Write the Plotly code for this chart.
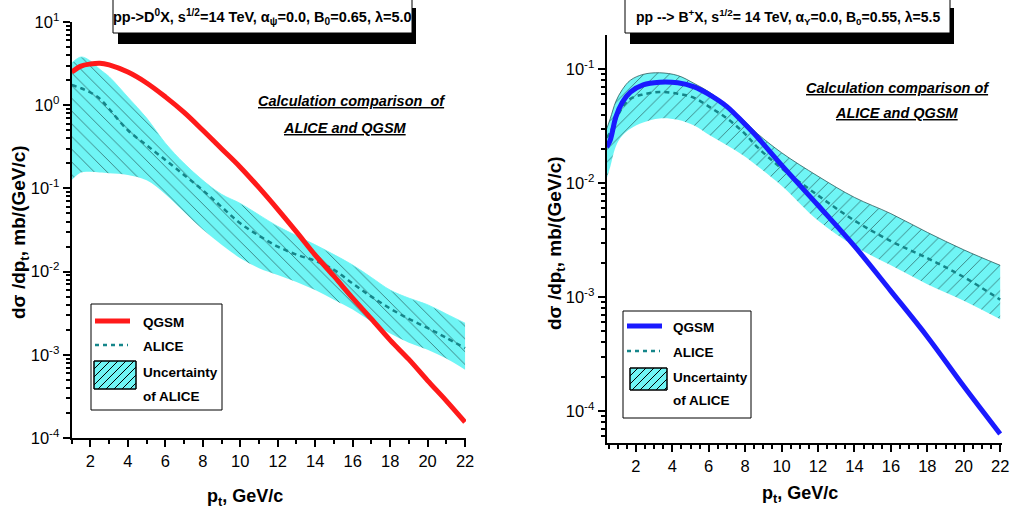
import plotly.graph_objects as go

# ---------------- data: left panel (pp -> D0 X) ----------------
d_x = [1.0, 1.5, 2.0, 2.5, 3.0, 4.0, 5.0, 6.0, 7.0, 8.0, 9.0, 10.0, 11.0, 12.0,
       13.0, 14.0, 15.0, 16.0, 17.0, 18.0, 19.0, 20.0, 21.0, 22.0]
d_qgsm = [2.5, 2.95, 3.13, 3.2, 3.05, 2.5, 1.85, 1.26, 0.82, 0.5, 0.3, 0.18, 0.102,
          0.056, 0.03, 0.0158, 0.0088, 0.0048, 0.0027, 0.0015, 0.00088, 0.00049,
          0.00028, 0.000155]
d_alice = [1.75, 1.6, 1.42, 1.2, 0.9, 0.5, 0.33, 0.22, 0.145, 0.095, 0.06, 0.038,
           0.027, 0.02, 0.016, 0.0135, 0.0105, 0.0072, 0.005, 0.0036, 0.0027,
           0.0021, 0.0016, 0.0012]
d_upper = [3.2, 3.8, 3.4, 2.7, 2.2, 1.25, 0.7, 0.35, 0.2, 0.125, 0.085, 0.066,
           0.048, 0.035, 0.027, 0.021, 0.016, 0.012, 0.0085, 0.006, 0.0048,
           0.004, 0.0031, 0.0024]
d_lower = [0.126, 0.155, 0.158, 0.155, 0.152, 0.145, 0.125, 0.085, 0.052, 0.032,
           0.021, 0.0145, 0.011, 0.0091, 0.0075, 0.006, 0.0046, 0.0035, 0.0025,
           0.0018, 0.0014, 0.00115, 0.0009, 0.00066]

# ---------------- data: right panel (pp -> B+ X) ----------------
b_x = [0.4, 0.6, 0.9, 1.25, 1.7, 2.4, 3.3, 4.3, 5.2, 6.1, 7.0, 7.9, 8.7, 10.0,
       12.0, 14.0, 16.0, 18.0, 20.0, 22.0]
b_qgsm = [0.0207, 0.024, 0.038, 0.051, 0.063, 0.073, 0.077, 0.076, 0.07, 0.059,
          0.047, 0.034, 0.025, 0.0144, 0.0064, 0.0028, 0.00113, 0.00045,
          0.000165, 0.000063]
b_alice = [0.025, 0.028, 0.036, 0.046, 0.055, 0.06, 0.063, 0.061, 0.056, 0.046,
           0.037, 0.028, 0.0205, 0.0135, 0.0078, 0.0047, 0.0031, 0.0022,
           0.0015, 0.00095]
b_upper = [0.03, 0.037, 0.052, 0.066, 0.08, 0.09, 0.093, 0.088, 0.075, 0.062,
           0.048, 0.036, 0.027, 0.0185, 0.0115, 0.0075, 0.0054, 0.0037, 0.0026,
           0.0019]
b_lower = [0.011, 0.014, 0.021, 0.026, 0.03, 0.034, 0.037, 0.036, 0.032, 0.026,
           0.0215, 0.0175, 0.014, 0.0095, 0.0047, 0.0028, 0.0019, 0.0013,
           0.00093, 0.00064]

x_tickvals = [2, 4, 6, 8, 10, 12, 14, 16, 18, 20, 22]
legend_labels = ["QGSM", "ALICE", "Uncertainty", "of ALICE"]

W, H = 1013, 517
FONT = "Liberation Sans, Arial, sans-serif"
CYAN = "#6ff5f5"
TEAL = "#15868a"
RED = "#ff1a1a"
BLUE = "#1a1aff"


def px_x(p):
    return p / W


def px_y(p):
    return 1 - p / H


fig = go.Figure()


def add_panel(xs, qgsm, alice, upper, lower, xa, ya, qcolor, hatch, edge):
    fig.add_trace(go.Scatter(x=xs, y=lower, mode="lines", line=dict(width=0, color=CYAN),
                             xaxis=xa, yaxis=ya, showlegend=False, hoverinfo="skip",
                             line_shape="spline"))
    fig.add_trace(go.Scatter(x=xs, y=upper, mode="lines", fill="tonexty",
                             fillcolor=CYAN,
                             fillpattern=dict(shape=hatch, bgcolor=CYAN, fgcolor="black",
                                              size=9, solidity=0.1),
                             line=dict(width=0.8, color=edge), line_shape="spline",
                             name="Uncertainty of ALICE", showlegend=False,
                             xaxis=xa, yaxis=ya))
    fig.add_trace(go.Scatter(x=xs, y=alice, mode="lines",
                             line=dict(color=TEAL, width=2.5, dash="5px,4px"),
                             line_shape="spline", name="ALICE", showlegend=False,
                             xaxis=xa, yaxis=ya))
    fig.add_trace(go.Scatter(x=xs, y=qgsm, mode="lines",
                             line=dict(color=qcolor, width=5), line_shape="spline",
                             name="QGSM", showlegend=False, xaxis=xa, yaxis=ya))


add_panel(d_x, d_qgsm, d_alice, d_upper, d_lower, "x", "y", RED, "\\", CYAN)
add_panel(b_x, b_qgsm, b_alice, b_upper, b_lower, "x2", "y2", BLUE, "/", "#2a5a5a")


def minor_log(e0, e1):
    return [k * 10.0 ** e for e in range(e0, e1) for k in range(2, 10)]


axis_common = dict(showline=True, linecolor="black", linewidth=2, ticks="outside",
                   tickcolor="black", showgrid=False, zeroline=False, mirror=False,
                   tickfont=dict(family=FONT, size=16.5, color="black"))

fig.update_layout(
    width=W, height=H, margin=dict(l=0, r=0, t=0, b=0, autoexpand=False),
    paper_bgcolor="white", plot_bgcolor="white", showlegend=False,
    xaxis=dict(domain=[px_x(71.7), px_x(466)], range=[1, 22.05], anchor="y",
               tickvals=x_tickvals, ticklen=7, tickwidth=1.5,
               minor=dict(dtick=1, tick0=0, ticks="outside", ticklen=4, tickcolor="black"),
               **axis_common),
    yaxis=dict(domain=[px_y(438), px_y(22)], type="log", range=[-4, 1], anchor="x",
               tickvals=[1e-4, 1e-3, 1e-2, 1e-1, 1, 10],
               ticktext=["10<sup>-4</sup>", "10<sup>-3</sup>", "10<sup>-2</sup>",
                         "10<sup>-1</sup>", "10<sup>0</sup>", "10<sup>1</sup>"],
               ticklen=7, tickwidth=1.5,
               minor=dict(tickvals=minor_log(-4, 1), ticks="outside", ticklen=4,
                          tickcolor="black"),
               **axis_common),
    xaxis2=dict(domain=[px_x(606.7), px_x(1002)], range=[0.4, 22.1], anchor="y2",
                tickvals=x_tickvals, ticklen=7, tickwidth=1.5,
                minor=dict(dtick=0.5, tick0=0, ticks="outside", ticklen=4, tickcolor="black"),
                **axis_common),
    yaxis2=dict(domain=[px_y(443), px_y(35)], type="log", range=[-4.28, -0.70], anchor="x2",
                tickvals=[1e-4, 1e-3, 1e-2, 1e-1],
                ticktext=["10<sup>-4</sup>", "10<sup>-3</sup>", "10<sup>-2</sup>",
                          "10<sup>-1</sup>"],
                ticklen=7, tickwidth=1.5,
                minor=dict(tickvals=minor_log(-5, 0), ticks="outside", ticklen=4,
                           tickcolor="black"),
                **axis_common),
)


def text_at(x, y, txt, size, xanchor="center", angle=0):
    fig.add_annotation(x=px_x(x), y=px_y(y), xref="paper", yref="paper", showarrow=False,
                       text=txt, xanchor=xanchor, yanchor="middle", textangle=angle,
                       font=dict(family=FONT, size=size, color="black"))


def rect(x0, x1, y0, y1, fill, lw=1, lc="black"):
    fig.add_shape(type="rect", xref="paper", yref="paper", x0=px_x(x0), x1=px_x(x1),
                  y0=px_y(y1), y1=px_y(y0), fillcolor=fill,
                  line=dict(width=lw, color=lc), layer="above")


def seg(x0, y0, x1, y1, color, width, dash="solid"):
    fig.add_shape(type="line", xref="paper", yref="paper", x0=px_x(x0), x1=px_x(x1),
                  y0=px_y(y0), y1=px_y(y1), line=dict(color=color, width=width, dash=dash),
                  layer="above")


# title boxes with shadows
boxes = [
    (113, 412, 14.5, "pp->D<sup>0</sup>X, s<sup>1/2</sup>=14 TeV, α<sub>ψ</sub>=0.0, B<sub>0</sub>=0.65, λ=5.0"),
    (625, 950, 14, "pp --> B<sup>+</sup>X, s<sup>1/2</sup>= 14 TeV, α<sub>Υ</sub>=0.0, B<sub>0</sub>=0.55, λ=5.5"),
]
for x0, x1, fs, txt in boxes:
    rect(x0 + 5, x1 + 4, 8, 44, "black", lw=0)
    rect(x0, x1, -2, 33, "white")
    text_at((x0 + x1) / 2, 17, "<b>" + txt + "</b>", fs)

# in-plot notes
text_at((258 + 445) / 2, 101, "<b><i><u>Calculation comparison  of</u></i></b>", 14.5)
text_at((285 + 405) / 2, 128, "<b><i><u>ALICE and QGSM</u></i></b>", 14.5)
text_at((808 + 987) / 2, 88, "<b><i><u>Calculation comparison of</u></i></b>", 14.5)
text_at((838 + 955) / 2, 113, "<b><i><u>ALICE and QGSM</u></i></b>", 14.5)

# axis titles
text_at(245, 497, "<b>p<sub>t</sub>, GeV/c</b>", 18)
text_at(800, 494, "<b>p<sub>t</sub>, GeV/c</b>", 18)
text_at(20, 232, "<b>dσ /dp<sub>t</sub>, mb/(GeV/c)</b>", 19, angle=-90)
text_at(556, 243, "<b>dσ /dp<sub>t</sub>, mb/(GeV/c)</b>", 19, angle=-90)


# custom legends
def legend_box(bx0, bx1, by0, by1, qcolor, ly1, ly2, hx0, hx1, hy0, hy1, tx, ty):
    rect(bx0, bx1, by0, by1, "white")
    seg(bx0 + 4, ly1, bx0 + 39, ly1, qcolor, 5)
    seg(bx0 + 4, ly2, bx0 + 37, ly2, TEAL, 2.5, dash="4px,4px")
    rect(hx0, hx1, hy0, hy1, CYAN)
    step = 8
    hgt = hy1 - hy0
    start = hx0 - hgt
    while start < hx1:
        xa, ya, xb, yb = start, hy1, start + hgt, hy0
        if xa < hx0:
            ya = hy1 - (hx0 - xa)
            xa = hx0
        if xb > hx1:
            yb = hy0 + (xb - hx1)
            xb = hx1
        if xb > xa:
            seg(xa, ya, xb, yb, "black", 1)
        start += step
    rect(hx0, hx1, hy0, hy1, "rgba(0,0,0,0)")
    for lbl, yy in zip(legend_labels, ty):
        text_at(tx, yy, "<b>" + lbl + "</b>", 13.5, xanchor="left")


legend_box(91, 222, 304, 410, RED, 321, 345, 94, 136, 361, 389, 141, [322, 346, 372, 396])
legend_box(623, 751, 311, 418, BLUE, 326, 351, 630, 667, 368, 390, 671, [327, 352, 377, 400])

fig.write_html("out.html", config={"displayModeBar": False},
               post_script="document.body.style.margin='0';")
